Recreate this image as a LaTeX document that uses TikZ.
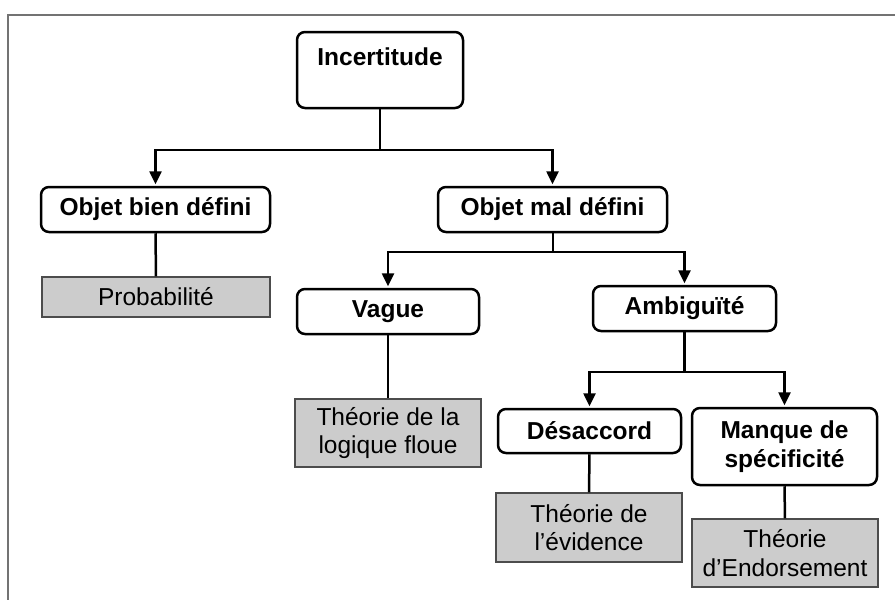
\documentclass[tikz,border=0pt]{standalone}
\usepackage{fontspec}
\setmainfont{Liberation Sans}
\usetikzlibrary{arrows.meta}
\begin{document}
\begin{tikzpicture}[x=1pt,y=-1pt,
  txt/.style={font=\fontsize{24.5}{28.5}\selectfont, align=center, inner sep=0pt},
  catbox/.style={txt, font=\fontsize{24.5}{28.5}\selectfont\bfseries, draw=black, line width=2.5pt, rounded corners=8pt, fill=white},
  theobox/.style={txt, draw=black!70, line width=1.1pt, fill=black!20},
  conn/.style={line width=2.5pt, draw=black},
  arr/.style={conn, -{Triangle[length=13pt,width=12pt]}, shorten >=1.5pt}
]
\useasboundingbox (0,0) rectangle (895,600);
% frame
\draw[line width=1.8pt, draw=black!55] (8,600) -- (8,15) -- (895,15);

% nodes
\node[catbox, minimum width=166pt, minimum height=76pt] (inc) at (380,70) {};
\node[txt, font=\fontsize{24.5}{28.5}\selectfont\bfseries] (inctext) at (380,57) {Incertitude};

\node[catbox, minimum width=229pt, minimum height=45pt] (obd) at (155.5,209.5) {Objet bien défini};
\node[catbox, minimum width=229pt, minimum height=45pt] (omd) at (552.5,209.5) {Objet mal défini};
\node[theobox, minimum width=228pt, minimum height=40pt] (prob) at (156,297) {Probabilité};

\node[catbox, minimum width=182pt, minimum height=45pt] (vag) at (388,311.5) {Vague};
\node[catbox, minimum width=183pt, minimum height=45pt] (amb) at (684.5,308.5) {Ambiguïté};
\node[theobox, minimum width=186pt, minimum height=68pt] (floue) at (388,433) {Théorie de la\\logique floue};

\node[catbox, minimum width=183pt, minimum height=44pt] (des) at (589.5,431) {Désaccord};
\node[catbox, minimum width=185pt, minimum height=77pt] (manq) at (784.5,446.5) {Manque de\\spécificité};
\node[theobox, minimum width=186pt, minimum height=69pt] (evid) at (589,527.5) {Théorie de\\l’évidence};
\node[theobox, minimum width=186pt, minimum height=68pt] (endo) at (785,553) {Théorie\\d’Endorsement};

% junctions
\coordinate (j1) at (380,150);
\coordinate (j2) at (553,252);
\coordinate (j3) at (684.5,372);

% connectors
\draw[conn] (inc.south) -- (j1);
\draw[arr] (j1) -| (obd.north);
\draw[arr] (j1) -| (omd.north);

\draw[conn] (obd.south) -- (prob.north);

\draw[conn] (omd.south -| j2) -- (j2);
\draw[arr] (j2) -| (vag.north);
\draw[arr] (j2) -| (amb.north);

\draw[conn] (vag.south) -- (floue.north);

\draw[conn] (amb.south) -- (j3);
\draw[arr] (j3) -| (des.north);
\draw[arr] (j3) -| (manq.north);

\draw[conn] (des.south) -- (evid.north);
\draw[conn] (manq.south) -- (endo.north);
\end{tikzpicture}
\end{document}
